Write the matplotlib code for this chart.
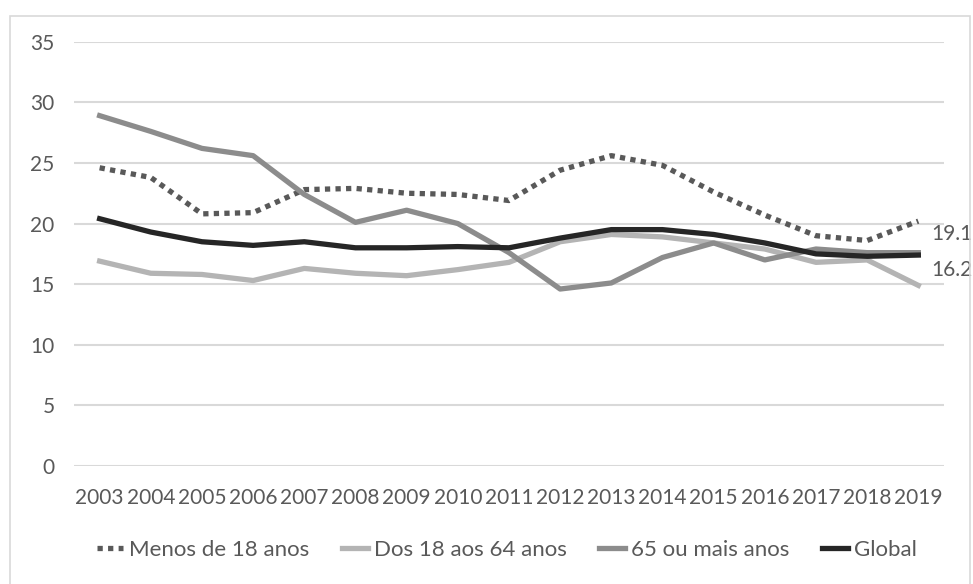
import numpy as np
import matplotlib
matplotlib.use('Agg')
import matplotlib.pyplot as plt
from matplotlib.patches import Rectangle

# taxa de risco de pobreza por grupo etario (%)
years = [str(y) for y in range(2003, 2020)]
menos_18 = [24.6, 23.8, 20.8, 20.9, 22.8, 22.9, 22.5, 22.4, 21.9, 24.4,
            25.6, 24.8, 22.6, 20.7, 19.0, 18.6, 20.2]
dos_18_64 = [16.9, 15.9, 15.8, 15.3, 16.3, 15.9, 15.7, 16.2, 16.8, 18.5,
             19.1, 18.9, 18.4, 17.9, 16.8, 17.0, 14.9]
mais_65 = [28.9, 27.6, 26.2, 25.6, 22.4, 20.1, 21.1, 20.0, 17.6, 14.6,
           15.1, 17.2, 18.4, 17.0, 17.9, 17.6, 17.6]
global_ = [20.4, 19.3, 18.5, 18.2, 18.5, 18.0, 18.0, 18.1, 18.0, 18.8,
           19.5, 19.5, 19.1, 18.4, 17.5, 17.3, 17.4]
end_labels = [19.1, 16.2]

text_col = '#595959'
plt.rcParams['font.family'] = ['Lato', 'DejaVu Sans']
plt.rcParams['font.size'] = 15

fig = plt.figure(figsize=(9.73, 5.84), dpi=100)
ax = fig.add_axes([0.0761, 0.202, 0.894, 0.7266])

# moldura do grafico
fig.patches.append(Rectangle((10 / 973, -0.1), 960 / 973, 1.1 - 16 / 584,
                             transform=fig.transFigure, fill=False,
                             edgecolor='#d9d9d9', linewidth=1.2))

x = np.arange(len(years))
lw = 3.8
ax.plot(x, menos_18, color='#595959', linewidth=lw, linestyle=(0, (1, 1)),
        dash_capstyle='butt', label='Menos de 18 anos')
ax.plot(x, dos_18_64, color='#b4b4b4', linewidth=lw, solid_joinstyle='round',
        label='Dos 18 aos 64 anos')
ax.plot(x, mais_65, color='#8c8c8c', linewidth=lw, solid_joinstyle='round',
        label='65 ou mais anos')
ax.plot(x, global_, color='#262626', linewidth=lw, solid_joinstyle='round',
        label='Global')

for v in end_labels:
    ax.annotate(f'{v:.1f}', xy=(x[-1], v), xytext=(9, 0),
                textcoords='offset points', va='center', ha='left',
                color=text_col, annotation_clip=False)

ax.set_xlim(-0.5, len(years) - 0.5)
ax.set_ylim(0, 35)
ax.set_yticks(range(0, 36, 5))
ax.set_xticks(x)
ax.set_xticklabels(years)
ax.yaxis.grid(True, color='#d9d9d9', linewidth=1.5)
ax.set_axisbelow(True)
for s in ax.spines.values():
    s.set_visible(False)
ax.tick_params(axis='both', length=0, colors=text_col)
ax.tick_params(axis='y', pad=14)
ax.tick_params(axis='x', pad=16)

fig.legend(loc='center', bbox_to_anchor=(0.521, 1 - 550 / 584), ncol=4,
           frameon=False, fontsize=16, handlelength=1.17, handletextpad=0.27,
           columnspacing=1.45, labelcolor=text_col)

plt.savefig('out.png', dpi=100)
